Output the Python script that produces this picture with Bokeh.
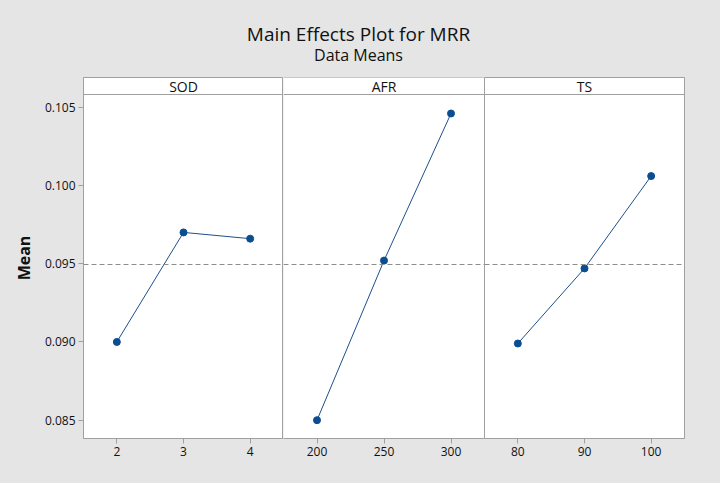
from bokeh.plotting import figure
from bokeh.layouts import row, column
from bokeh.models import Range1d, FixedTicker, PrintfTickFormatter, Span, Label
from bokeh.embed import file_html
from bokeh.resources import INLINE

# ---- data ----
factors = ["SOD", "AFR", "TS"]
sod_levels = [2, 3, 4]
sod_means = [0.0900, 0.0970, 0.0966]
afr_levels = [200, 250, 300]
afr_means = [0.0850, 0.0952, 0.1046]
ts_levels = [80, 90, 100]
ts_means = [0.0899, 0.0947, 0.1006]
grand_mean = 0.09495
y_ticks = [0.085, 0.090, 0.095, 0.100, 0.105]

# ---- style ----
BG = "#e5e5e5"
FRAME = "#a0a0a0"
BLUE = "#0b4d92"
LINE = "#1f4f8a"
FONT = "Open Sans"
TXT = "#111111"

Y_BOTTOM = 0.08383
HEADER_Y = 0.105812
Y_TOP = 0.106899
yr = Range1d(Y_BOTTOM, Y_TOP)

# ---- title strip ----
top = figure(width=720, height=77, x_range=(0, 720), y_range=(0, 77),
             toolbar_location=None, output_backend="svg", min_border=0)
top.axis.visible = False
top.grid.visible = False
top.outline_line_color = None
top.background_fill_color = BG
top.border_fill_color = BG
top.add_layout(Label(x=358, y=44, text="Main Effects Plot for MRR", text_align="center",
                     text_baseline="middle", text_font=FONT, text_font_size="19px",
                     text_color=TXT))
top.add_layout(Label(x=358, y=23, text="Data Means", text_align="center",
                     text_baseline="middle", text_font=FONT, text_font_size="16px",
                     text_color=TXT))


def make_panel(name, levels, means, width, left, right, show_y, outline):
    step = levels[1] - levels[0]
    xr = Range1d(levels[0] - step / 2, levels[-1] + step / 2)
    p = figure(width=width, height=406, x_range=xr, y_range=yr,
               toolbar_location=None, output_backend="svg",
               min_border_left=left, min_border_right=right,
               min_border_top=0, min_border_bottom=45)
    p.grid.visible = False
    p.background_fill_color = "white"
    p.border_fill_color = BG
    if outline:
        p.outline_line_color = FRAME
        p.outline_line_width = 1
    else:
        p.outline_line_color = None
        p.add_layout(Span(location=Y_TOP, dimension="width", line_color=FRAME,
                          line_width=1))

    p.add_layout(Span(location=grand_mean, dimension="width", line_color="#8c8c8c",
                      line_dash="5 3", line_width=1))
    p.add_layout(Span(location=HEADER_Y, dimension="width", line_color=FRAME,
                      line_width=1))
    p.add_layout(Label(x=(levels[0] + levels[-1]) / 2, y=(HEADER_Y + Y_TOP) / 2,
                       text=name, text_align="center", text_baseline="middle",
                       text_font=FONT, text_font_size="14px", text_color=TXT))

    p.line(levels, means, line_color=LINE, line_width=1)
    p.scatter(levels, means, size=7, fill_color=BLUE, line_color=BLUE)

    xa = p.xaxis[0]
    xa.ticker = FixedTicker(ticks=levels)
    xa.axis_line_color = FRAME
    xa.major_tick_line_color = FRAME
    xa.major_tick_out = 5
    xa.major_tick_in = 0
    xa.minor_tick_line_color = None
    xa.major_label_standoff = 3
    xa.major_label_text_font = FONT
    xa.major_label_text_font_size = "12px"
    xa.major_label_text_color = TXT

    ya = p.yaxis[0]
    if show_y:
        ya.ticker = FixedTicker(ticks=y_ticks)
        ya.formatter = PrintfTickFormatter(format="%.3f")
        ya.axis_line_color = FRAME
        ya.major_tick_line_color = FRAME
        ya.major_tick_out = 5
        ya.major_tick_in = 0
        ya.minor_tick_line_color = None
        ya.major_label_standoff = 3
        ya.major_label_text_font = FONT
        ya.major_label_text_font_size = "12px"
        ya.major_label_text_color = TXT
        ya.axis_label = "Mean"
        ya.axis_label_text_font = FONT
        ya.axis_label_text_font_size = "16px"
        ya.axis_label_text_font_style = "bold"
        ya.axis_label_text_color = TXT
        ya.axis_label_standoff = 7
    else:
        ya.visible = False
    return p


p1 = make_panel(factors[0], sod_levels, sod_means, 283, 83, 0, True, True)
p2 = make_panel(factors[1], afr_levels, afr_means, 201, 0, 0, False, False)
p3 = make_panel(factors[2], ts_levels, ts_means, 236, 0, 36, False, True)

layout = column(top, row(p1, p2, p3, spacing=0), spacing=0)
layout.styles = {"background-color": BG}

html = file_html(layout, INLINE)
html = html.replace("<body>", '<body style="background-color:#e5e5e5;">', 1)
open("out.html", "w").write(html)
